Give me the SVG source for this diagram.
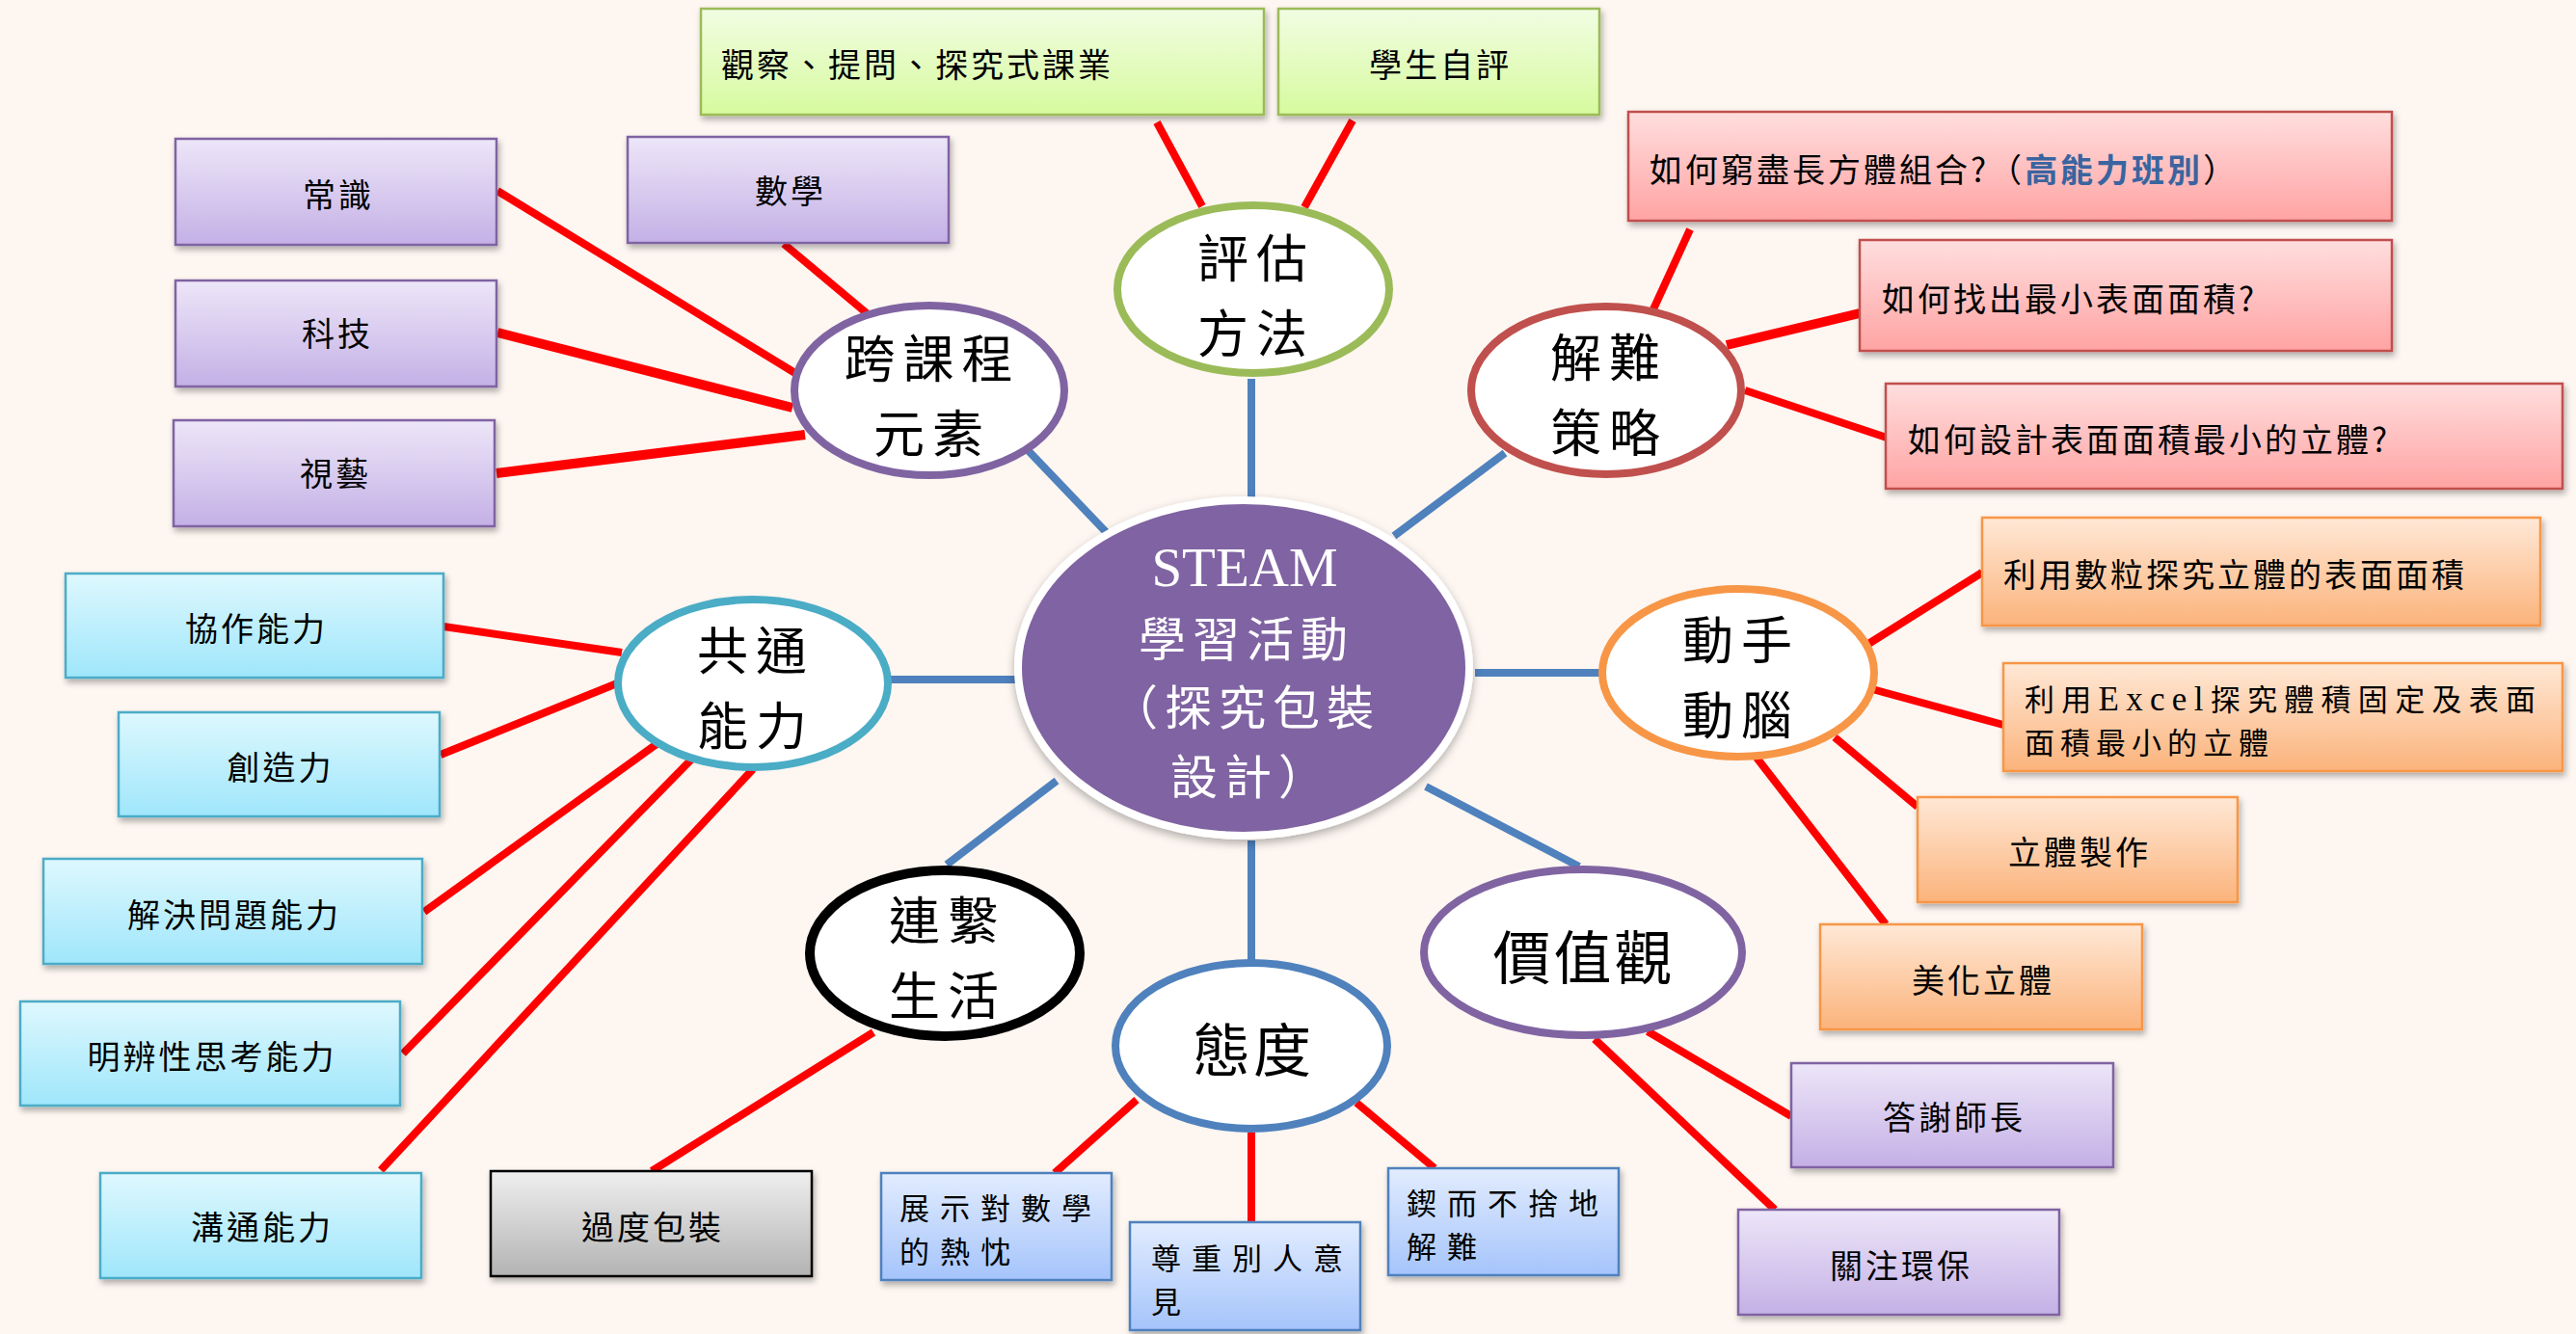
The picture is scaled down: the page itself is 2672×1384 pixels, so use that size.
<svg xmlns="http://www.w3.org/2000/svg" width="2672" height="1384" viewBox="0 0 2672 1384">
<defs>
  <linearGradient id="gPurple" x1="0" y1="0" x2="0" y2="1"><stop offset="0" stop-color="#EDE6F8"/><stop offset="1" stop-color="#C4B0E6"/></linearGradient>
  <linearGradient id="gGreen" x1="0" y1="0" x2="0" y2="1"><stop offset="0" stop-color="#F1FDE3"/><stop offset="1" stop-color="#D7FA9E"/></linearGradient>
  <linearGradient id="gPink" x1="0" y1="0" x2="0" y2="1"><stop offset="0" stop-color="#FFDEDE"/><stop offset="1" stop-color="#FFA3A3"/></linearGradient>
  <linearGradient id="gCyan" x1="0" y1="0" x2="0" y2="1"><stop offset="0" stop-color="#DEF8FE"/><stop offset="1" stop-color="#9FE6FB"/></linearGradient>
  <linearGradient id="gOrange" x1="0" y1="0" x2="0" y2="1"><stop offset="0" stop-color="#FFE8D6"/><stop offset="1" stop-color="#FBB37B"/></linearGradient>
  <linearGradient id="gBlue" x1="0" y1="0" x2="0" y2="1"><stop offset="0" stop-color="#E2ECFE"/><stop offset="1" stop-color="#A5C4FB"/></linearGradient>
  <linearGradient id="gGray" x1="0" y1="0" x2="0" y2="1"><stop offset="0" stop-color="#EFEFEF"/><stop offset="1" stop-color="#B3B3B3"/></linearGradient>
  <filter id="sh" x="-5%" y="-10%" width="110%" height="130%">
    <feDropShadow dx="2" dy="4" stdDeviation="3" flood-color="#000" flood-opacity="0.3"/>
  </filter>
  <filter id="sh2" x="-10%" y="-10%" width="120%" height="125%">
    <feDropShadow dx="0" dy="4" stdDeviation="5" flood-color="#000" flood-opacity="0.3"/>
  </filter>
</defs>
<style>
  .red{stroke:#FF0000;stroke-width:8;fill:none}
  .blu{stroke:#4F81BD;stroke-width:8;fill:none}
  .bt{font-family:"Noto Sans CJK TC","Noto Sans CJK SC",sans-serif;font-size:34px;letter-spacing:3px;fill:#000}
  .two{font-size:31px;letter-spacing:6px}
  .wide{font-size:31px;letter-spacing:11px}
  .c{text-anchor:middle}
  .ct{font-family:"Noto Sans CJK TC","Noto Sans CJK SC",sans-serif;font-size:60px;letter-spacing:3px;text-anchor:middle;fill:#000}
  .ct2{font-size:53px;letter-spacing:8px}
  .ell{fill:#fff;stroke-width:8}
  .b{stroke-width:2.5;filter:url(#sh)}
  .pu{fill:url(#gPurple);stroke:#8064A2}
  .gr{fill:url(#gGreen);stroke:#9BBB59}
  .pk{fill:url(#gPink);stroke:#C0504D}
  .cy{fill:url(#gCyan);stroke:#4BACC6}
  .or{fill:url(#gOrange);stroke:#F79646}
  .bl{fill:url(#gBlue);stroke:#4F81BD}
  .gy{fill:url(#gGray);stroke:#000}
</style>
<rect x="0" y="0" width="2672" height="1384" fill="#FDF6F1"/>

<g id="connectors">
  <line class="blu" x1="1067" y1="468" x2="1152" y2="557"/>
  <line class="blu" x1="1298" y1="393" x2="1298" y2="516"/>
  <line class="blu" x1="1561" y1="470" x2="1446" y2="556"/>
  <line class="blu" x1="924" y1="705" x2="1054" y2="705"/>
  <line class="blu" x1="1530" y1="698" x2="1660" y2="698"/>
  <line class="blu" x1="1096" y1="810" x2="982" y2="897"/>
  <line class="blu" x1="1298" y1="872" x2="1298" y2="997"/>
  <line class="blu" x1="1479" y1="816" x2="1638" y2="899"/>

  <line class="red" x1="516" y1="198" x2="828" y2="389"/>
  <line class="red" x1="516" y1="345" x2="822" y2="423" style="stroke-width:10"/>
  <line class="red" x1="515" y1="491" x2="835" y2="451" style="stroke-width:10"/>
  <line class="red" x1="813" y1="253" x2="899" y2="325"/>
  <line class="red" x1="1200" y1="127" x2="1247" y2="214"/>
  <line class="red" x1="1403" y1="125" x2="1353" y2="215"/>
  <line class="red" x1="1753" y1="238" x2="1714" y2="323"/>
  <line class="red" x1="1791" y1="358" x2="1929" y2="325" style="stroke-width:10"/>
  <line class="red" x1="1810" y1="405" x2="1957" y2="454"/>
  <line class="red" x1="1938" y1="668" x2="2056" y2="594"/>
  <line class="red" x1="1942" y1="715" x2="2078" y2="752"/>
  <line class="red" x1="1903" y1="765" x2="1989" y2="837"/>
  <line class="red" x1="1822" y1="786" x2="1956" y2="959"/>
  <line class="red" x1="1709" y1="1070" x2="1858" y2="1158"/>
  <line class="red" x1="1654" y1="1078" x2="1841" y2="1255"/>
  <line class="red" x1="1407" y1="1144" x2="1488" y2="1212"/>
  <line class="red" x1="1298" y1="1175" x2="1298" y2="1268"/>
  <line class="red" x1="1179" y1="1141" x2="1094" y2="1217"/>
  <line class="red" x1="906" y1="1071" x2="676" y2="1215"/>
  <line class="red" x1="460" y1="650" x2="645" y2="677"/>
  <line class="red" x1="457" y1="783" x2="640" y2="709"/>
  <line class="red" x1="440" y1="946" x2="681" y2="772"/>
  <line class="red" x1="418" y1="1093" x2="719" y2="786"/>
  <line class="red" x1="395" y1="1214" x2="781" y2="798"/>
</g>

<g id="center">
  <ellipse cx="1290" cy="693" rx="234" ry="174" fill="#8064A2" stroke="#fff" stroke-width="8" filter="url(#sh2)"/>
  <text x="1291" y="608" text-anchor="middle" font-family="Liberation Serif,serif" font-size="57" fill="#fff">STEAM</text>
  <text text-anchor="middle" font-family="Noto Sans CJK TC,sans-serif" font-size="49" letter-spacing="7" fill="#fff"><tspan x="1293" y="681">學習活動</tspan><tspan x="1292" y="752">（探究包裝</tspan><tspan x="1298" y="824">設計）</tspan></text>
</g>

<g id="n-kuakecheng">
  <ellipse class="ell" cx="964" cy="405" rx="140" ry="88" stroke="#8064A2"/>
  <text class="ct ct2"><tspan x="967" y="392">跨課程</tspan><tspan x="967" y="470">元素</tspan></text>
</g>
<g id="n-pinggu">
  <ellipse class="ell" cx="1300" cy="300" rx="141" ry="87" stroke="#9BBB59"/>
  <text class="ct ct2"><tspan x="1303" y="288">評估</tspan><tspan x="1303" y="366">方法</tspan></text>
</g>
<g id="n-jienan">
  <ellipse class="ell" cx="1666" cy="405" rx="140" ry="87" stroke="#C0504D"/>
  <text class="ct ct2"><tspan x="1669" y="391">解難</tspan><tspan x="1669" y="469">策略</tspan></text>
</g>
<g id="n-gongtong">
  <ellipse class="ell" cx="781" cy="709" rx="140" ry="87" stroke="#4BACC6"/>
  <text class="ct ct2"><tspan x="784" y="695">共通</tspan><tspan x="784" y="773">能力</tspan></text>
</g>
<g id="n-dongshou">
  <ellipse class="ell" cx="1803" cy="698" rx="141" ry="87" stroke="#F79646"/>
  <text class="ct ct2"><tspan x="1806" y="684">動手</tspan><tspan x="1806" y="762">動腦</tspan></text>
</g>
<g id="n-lianxi">
  <ellipse class="ell" cx="980" cy="989" rx="140" ry="86" stroke="#000" style="stroke-width:10"/>
  <text class="ct ct2"><tspan x="983" y="975">連繫</tspan><tspan x="983" y="1053">生活</tspan></text>
</g>
<g id="n-taidu">
  <ellipse class="ell" cx="1298" cy="1085" rx="141" ry="86" stroke="#4F81BD"/>
  <text class="ct" x="1300" y="1112">態度</text>
</g>
<g id="n-jiazhi">
  <ellipse class="ell" cx="1642" cy="988" rx="165" ry="86" stroke="#8064A2"/>
  <text class="ct" x="1643" y="1016">價值觀</text>
</g>

<g id="b-guancha"><rect class="b gr" x="727" y="9" width="584" height="110"/><text class="bt" x="748" y="80">觀察、提問、探究式課業</text></g>
<g id="b-zipin"><rect class="b gr" x="1326" y="9" width="333" height="110"/><text class="bt c" x="1494" y="80">學生自評</text></g>
<g id="b-shuxue"><rect class="b pu" x="651" y="142" width="333" height="110"/><text class="bt c" x="820" y="211">數學</text></g>
<g id="b-changshi"><rect class="b pu" x="182" y="144" width="333" height="110"/><text class="bt c" x="351" y="215">常識</text></g>
<g id="b-keji"><rect class="b pu" x="182" y="291" width="333" height="110"/><text class="bt c" x="350" y="359">科技</text></g>
<g id="b-shiyi"><rect class="b pu" x="180" y="436" width="333" height="110"/><text class="bt c" x="348" y="504">視藝</text></g>

<g id="b-q1"><rect class="b pk" x="1689" y="116" width="792" height="113"/><text class="bt" x="1711" y="189">如何窮盡長方體組合?（<tspan fill="#3A64A0" font-weight="bold">高能力班別</tspan>）</text></g>
<g id="b-q2"><rect class="b pk" x="1929" y="249" width="552" height="115"/><text class="bt" x="1952" y="323">如何找出最小表面面積?</text></g>
<g id="b-q3"><rect class="b pk" x="1956" y="398" width="702" height="109"/><text class="bt" x="1979" y="469">如何設計表面面積最小的立體?</text></g>

<g id="b-shuli"><rect class="b or" x="2056" y="537" width="579" height="112"/><text class="bt" x="2078" y="609">利用數粒探究立體的表面面積</text></g>
<g id="b-excel"><rect class="b or" x="2078" y="688" width="580" height="112"/>
  <text class="bt two"><tspan x="2100" y="737" textLength="536" lengthAdjust="spacing">利用<tspan font-family="Liberation Serif,serif" font-size="35">Excel</tspan>探究體積固定及表面</tspan><tspan x="2100" y="782">面積最小的立體</tspan></text></g>
<g id="b-zhizuo"><rect class="b or" x="1989" y="827" width="332" height="109"/><text class="bt c" x="2157" y="897">立體製作</text></g>
<g id="b-meihua"><rect class="b or" x="1888" y="959" width="334" height="109"/><text class="bt c" x="2057" y="1030">美化立體</text></g>

<g id="b-daxie"><rect class="b pu" x="1858" y="1103" width="334" height="108"/><text class="bt c" x="2027" y="1172">答謝師長</text></g>
<g id="b-huanbao"><rect class="b pu" x="1803" y="1255" width="333" height="109"/><text class="bt c" x="1972" y="1326">關注環保</text></g>

<g id="b-qier"><rect class="b bl" x="1440" y="1212" width="239" height="111"/><text class="bt wide"><tspan x="1459" y="1260">鍥而不捨地</tspan><tspan x="1459" y="1305">解難</tspan></text></g>
<g id="b-zunzhong"><rect class="b bl" x="1172" y="1268" width="239" height="112"/><text class="bt wide"><tspan x="1194" y="1317">尊重別人意</tspan><tspan x="1194" y="1362">見</tspan></text></g>
<g id="b-zhanshi"><rect class="b bl" x="914" y="1217" width="239" height="111"/><text class="bt wide"><tspan x="933" y="1265">展示對數學</tspan><tspan x="933" y="1310">的熱忱</tspan></text></g>

<g id="b-guodu"><rect class="b gy" x="509" y="1215" width="333" height="109"/><text class="bt c" x="677" y="1286">過度包裝</text></g>

<g id="b-goutong"><rect class="b cy" x="104" y="1217" width="333" height="109"/><text class="bt c" x="272" y="1286">溝通能力</text></g>
<g id="b-mingbian"><rect class="b cy" x="21" y="1039" width="394" height="108"/><text class="bt c" x="220" y="1109">明辨性思考能力</text></g>
<g id="b-jiejue"><rect class="b cy" x="45" y="891" width="393" height="109"/><text class="bt c" x="243" y="962">解決問題能力</text></g>
<g id="b-chuangzao"><rect class="b cy" x="123" y="739" width="333" height="108"/><text class="bt c" x="291" y="809">創造力</text></g>
<g id="b-xiezuo"><rect class="b cy" x="68" y="595" width="392" height="108"/><text class="bt c" x="266" y="665">協作能力</text></g>
</svg>
